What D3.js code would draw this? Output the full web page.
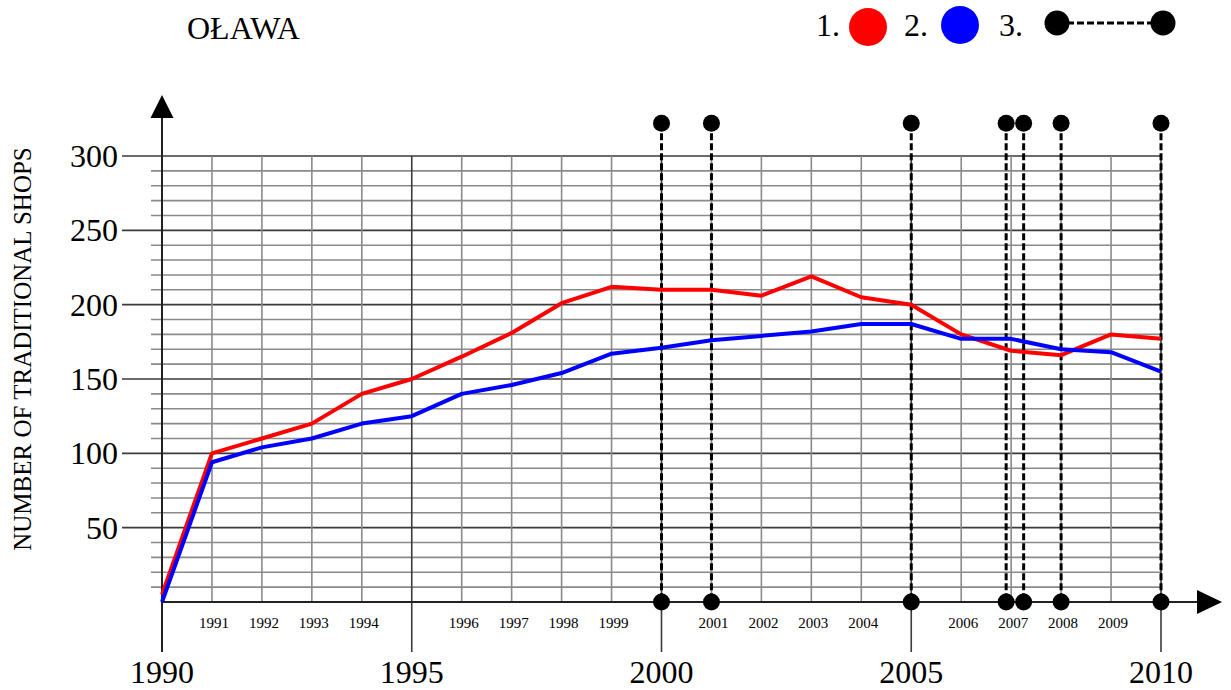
<!DOCTYPE html>
<html>
<head>
<meta charset="utf-8">
<script src="https://cdn.jsdelivr.net/npm/d3@7"></script>
<style>
  body { margin: 0; background: #fff; }
  text { font-family: "Liberation Serif", "DejaVu Serif", serif; fill: #000; }
</style>
</head>
<body>
<div id="vis"></div>
<script>
const years = d3.range(1990, 2011);
const series1 = [5, 100, 110, 120, 140, 150, 165, 181, 201, 212, 210, 210, 206, 219, 205, 200, 180, 169, 166, 180, 177];
const series2 = [0, 94, 104, 110, 120, 125, 140, 146, 154, 167, 171, 176, 179, 182, 187, 187, 177, 177, 170, 168, 155];
const eventYears = [2000, 2001, 2005, 2006.9, 2007.25, 2008, 2010];
const yTicks = [50, 100, 150, 200, 250, 300];
const majorYears = [1990, 1995, 2000, 2005, 2010];
const minorYears = years.filter(y => y % 5 !== 0);
const eventTop = 322;

const W = 1231, H = 690;

const svg = d3.select("#vis")
    .append("svg")
    .attr("width", W)
    .attr("height", H);

const x = d3.scaleLinear().domain([1990, 2010]).range([162, 1161]);
const y = d3.scaleLinear().domain([0, 300]).range([602, 156]);

const grid = svg.append("g");

// horizontal lines every 10
grid.selectAll(".hminor")
    .data(d3.range(10, 301, 10).filter(v => v % 50 !== 0))
    .enter().append("line")
    .attr("x1", 151).attr("x2", x(2010))
    .attr("y1", d => y(d)).attr("y2", d => y(d))
    .style("stroke", "#8a8a8a").style("stroke-width", 1.6);

grid.selectAll(".hmajor")
    .data(yTicks)
    .enter().append("line")
    .attr("x1", 122).attr("x2", x(2010))
    .attr("y1", d => y(d)).attr("y2", d => y(d))
    .style("stroke", "#3a3a3a").style("stroke-width", 1.6);

grid.selectAll(".vminor")
    .data(minorYears)
    .enter().append("line")
    .attr("x1", d => x(d)).attr("x2", d => x(d))
    .attr("y1", y(300)).attr("y2", y(0))
    .style("stroke", "#8a8a8a").style("stroke-width", 1.6);

grid.selectAll(".vmajor")
    .data(majorYears.slice(1))
    .enter().append("line")
    .attr("x1", d => x(d)).attr("x2", d => x(d))
    .attr("y1", y(300)).attr("y2", 652)
    .style("stroke", "#3a3a3a").style("stroke-width", 1.6);

// axes with arrows
svg.append("line")
    .attr("x1", x(1990)).attr("x2", x(1990))
    .attr("y1", 116).attr("y2", 652)
    .style("stroke", "#222").style("stroke-width", 2);

svg.append("path")
    .attr("d", `M${x(1990)},95 L${x(1990) - 11.5},118 L${x(1990) + 11.5},118 Z`)
    .style("fill", "#000");

svg.append("line")
    .attr("x1", x(1990)).attr("x2", 1200)
    .attr("y1", y(0)).attr("y2", y(0))
    .style("stroke", "#222").style("stroke-width", 2);

svg.append("path")
    .attr("d", `M1222,${y(0)} L1197,${y(0) - 12} L1197,${y(0) + 12} Z`)
    .style("fill", "#000");

// tick labels
svg.selectAll(".ylab")
    .data(yTicks)
    .enter().append("text")
    .attr("x", 118)
    .attr("y", d => y(d) + 11)
    .attr("text-anchor", "end")
    .style("font-size", "32px")
    .text(d => d);

svg.selectAll(".xmajor")
    .data(majorYears)
    .enter().append("text")
    .attr("x", d => x(d))
    .attr("y", 683)
    .attr("text-anchor", "middle")
    .style("font-size", "32px")
    .text(d => d);

svg.selectAll(".xminor")
    .data(minorYears)
    .enter().append("text")
    .attr("x", d => x(d) + 2)
    .attr("y", 628)
    .attr("text-anchor", "middle")
    .style("font-size", "15px")
    .text(d => d);

svg.append("text")
    .attr("transform", "rotate(-90)")
    .attr("x", -349)
    .attr("y", 31)
    .attr("text-anchor", "middle")
    .style("font-size", "25px")
    .text("NUMBER OF TRADITIONAL SHOPS");

// event markers
const events = svg.append("g");

events.selectAll("line")
    .data(eventYears)
    .enter().append("line")
    .attr("x1", d => x(d)).attr("x2", d => x(d))
    .attr("y1", y(eventTop)).attr("y2", y(0))
    .style("stroke", "#000").style("stroke-width", 3)
    .style("stroke-dasharray", "7,3");

// data lines
const line = d3.line()
    .x((d, i) => x(years[i]))
    .y(d => y(d));

svg.append("path")
    .datum(series1)
    .attr("d", line)
    .style("fill", "none")
    .style("stroke", "#ff0000")
    .style("stroke-width", 4)
    .style("stroke-linejoin", "round");

svg.append("path")
    .datum(series2)
    .attr("d", line)
    .style("fill", "none")
    .style("stroke", "#0000ff")
    .style("stroke-width", 4)
    .style("stroke-linejoin", "round");

events.selectAll(".top")
    .data(eventYears)
    .enter().append("circle")
    .attr("cx", d => x(d)).attr("cy", y(eventTop)).attr("r", 8.5)
    .style("fill", "#000");

events.selectAll(".bottom")
    .data(eventYears)
    .enter().append("circle")
    .attr("cx", d => x(d)).attr("cy", y(0)).attr("r", 8.5)
    .style("fill", "#000");

// title and legend
svg.append("text")
    .attr("x", 187)
    .attr("y", 39)
    .style("font-size", "32px")
    .text("OŁAWA");

const legend = svg.append("g");

legend.append("text").attr("x", 816).attr("y", 36).style("font-size", "32px").text("1.");
legend.append("circle").attr("cx", 868).attr("cy", 27).attr("r", 19).style("fill", "#ff0000");
legend.append("text").attr("x", 904).attr("y", 36).style("font-size", "32px").text("2.");
legend.append("circle").attr("cx", 960).attr("cy", 25).attr("r", 19).style("fill", "#0000ff");
legend.append("text").attr("x", 999).attr("y", 36).style("font-size", "32px").text("3.");
legend.append("line")
    .attr("x1", 1057).attr("x2", 1163).attr("y1", 23).attr("y2", 23)
    .style("stroke", "#000").style("stroke-width", 3).style("stroke-dasharray", "7,3");
legend.append("circle").attr("cx", 1057).attr("cy", 23).attr("r", 12.5).style("fill", "#000");
legend.append("circle").attr("cx", 1163).attr("cy", 23).attr("r", 12.5).style("fill", "#000");
</script>
</body>
</html>
